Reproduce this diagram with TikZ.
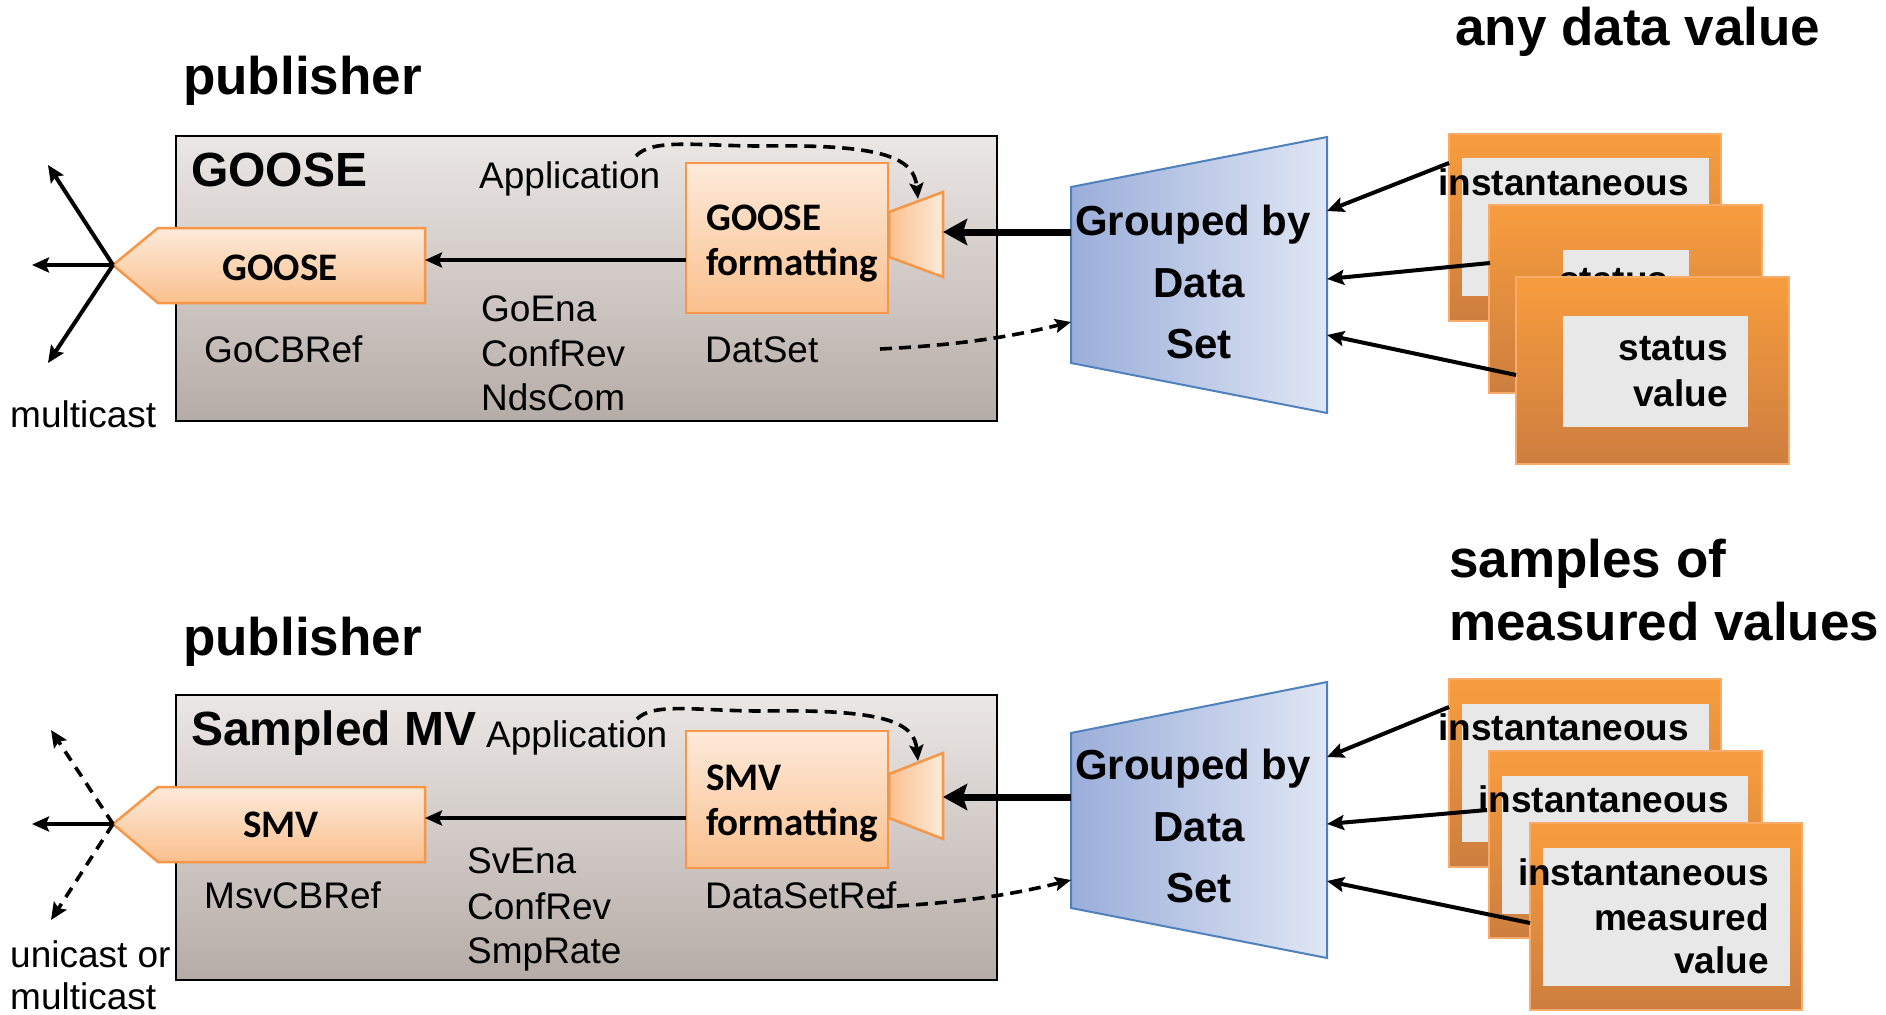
\documentclass[tikz,border=0pt]{standalone}
\usepackage{fontspec}
\setmainfont{Liberation Sans}
\newfontfamily\carl{Carlito}
\usetikzlibrary{arrows.meta}
\newcommand\fsreg{\fontsize{37}{44}\selectfont}
\newcommand\fsttl{\fontsize{53}{62}\selectfont\bfseries}
\newcommand\fshead{\fontsize{48}{56}\selectfont\bfseries}
\newcommand\fsgrp{\fontsize{42}{50}\selectfont\bfseries}
\newcommand\fscard{\fontsize{37}{44}\selectfont\bfseries}
\newcommand\fscal{\carl\fontsize{39}{46}\selectfont\bfseries}
\definecolor{grayT}{HTML}{EBE7E5}
\definecolor{grayB}{HTML}{B6ACA7}
\definecolor{orL}{HTML}{FDEADA}
\definecolor{orM}{HTML}{FAC08E}
\definecolor{orD}{HTML}{F79646}
\definecolor{cardT}{HTML}{F89D3E}
\definecolor{cardB}{HTML}{CD7E3F}
\definecolor{cardD}{HTML}{F9AC6A}
\definecolor{cardI}{HTML}{E8E8E8}
\definecolor{blL}{HTML}{9BAEDA}
\definecolor{blR}{HTML}{E0E6F4}
\definecolor{blD}{HTML}{4F81BD}
\tikzset{
  txt/.style={inner sep=0pt, font=\fsreg},
  ttl/.style={inner sep=0pt, font=\fsttl},
  head/.style={inner sep=0pt, font=\fshead},
  grp/.style={inner sep=0pt, font=\fsgrp, anchor=base},
  ctxt/.style={inner sep=0pt, font=\fscard},
  caltxt/.style={inner sep=0pt, font=\fscal},
  gbox/.style={draw=black, line width=2.5pt, top color=grayT, bottom color=grayB, inner sep=0pt, outer sep=0pt},
  fmtbox/.style={draw=orD, line width=2.5pt, top color=orL, bottom color=orM, inner sep=0pt, outer sep=0pt},
  pent/.style={draw=orD, line width=2.5pt, top color=orL, bottom color=orM},
  funnel/.style={draw=orD, line width=2.5pt, left color=orM, right color=orL},
  grpshape/.style={draw=blD, line width=2pt, left color=blL, right color=blR},
  card/.style={draw=cardD, line width=2pt, top color=cardT, bottom color=cardB, inner sep=0pt, outer sep=0pt},
  cardin/.style={fill=cardI, inner sep=0pt, outer sep=0pt},
  arr/.style={line width=4pt, -{Stealth[length=17pt,width=15pt,inset=3pt]}},
  thickarr/.style={line width=7pt, -{Stealth[length=24pt,width=26pt,inset=4pt]}},
  dsh/.style={line width=3.6pt, dash pattern=on 12pt off 7pt, -{Stealth[length=16pt,width=14pt,inset=3pt]}},
  dshm/.style={line width=3.6pt, dash pattern=on 11pt off 8pt, -{Stealth[length=17pt,width=15pt,inset=3pt]}},
}
\begin{document}
\begin{tikzpicture}[x=1pt,y=-1pt]
\useasboundingbox (0,0) rectangle (1886,1014);

% ---------- titles ----------
\node[ttl, anchor=base west] (pub1) at (183,95) {publisher};
\node[ttl, anchor=base west] (any) at (1455,46) {any data value};
\node[ttl, anchor=base west] (samp1) at (1449,577) {samples of};
\node[ttl, anchor=base west] (samp2) at (1449,640) {measured values};
\node[ttl, anchor=base west] (pub2) at (183,655) {publisher};

% ================= TOP : GOOSE =================
\node[gbox, minimum width=821pt, minimum height=285pt] (box1) at (586.5,278.5) {};
\node[head, anchor=base west] (goosettl) at (191,186) {GOOSE};
\node[txt, anchor=base west] (app1) at (479,188) {Application};
\node[txt, anchor=base west] (gocb) at (204,362) {GoCBRef};
\node[txt, anchor=base west] (goena) at (481,321) {GoEna};
\node[txt, anchor=base west] (confrev1) at (481,366) {ConfRev};
\node[txt, anchor=base west] (ndscom) at (481,410) {NdsCom};
\node[txt, anchor=base west] (datset) at (705,362) {DatSet};
\node[txt, anchor=base west] (mc1) at (10,427) {multicast};

% pentagon
\draw[pent] (425,228) -- (158,228) -- (113,265) -- (158,303) -- (425,303) -- cycle;
\coordinate (p1tip) at (113,265);
\coordinate (p1right) at (425,260);
\node[caltxt, anchor=base] (p1txt) at (280,280) {GOOSE};

% formatting box
\node[fmtbox, minimum width=202pt, minimum height=150pt] (fmt1) at (787,238) {};
\node[caltxt, anchor=base west] (fmt1a) at (706,230) {GOOSE};
\node[caltxt, anchor=base west] (fmt1b) at (706,275) {formatting};
% funnel
\draw[funnel] (889,212) -- (943,192) -- (943,277) -- (889,257) -- cycle;
\coordinate (f1right) at (943,232);
\coordinate (f1top) at (918,199);

% grouped by data set
\draw[grpshape] (1071,187) -- (1327,137) -- (1327,413) -- (1071,363) -- cycle;
\node[grp] (g1a) at (1193,235) {Grouped by};
\node[grp] (g1b) at (1199,297) {Data};
\node[grp] (g1c) at (1199,358) {Set};
\coordinate (g1left) at (1071,232);
\coordinate (g1ds) at (1071,322);
\coordinate (g1r1) at (1327,211);
\coordinate (g1r2) at (1327,279);
\coordinate (g1r3) at (1327,335);

% cards
\node[card, minimum width=272pt, minimum height=187pt] (tc1) at (1585,227.5) {};
\node[cardin, minimum width=247pt, minimum height=138pt] (tc1i) at (1585.5,227) {};
\node[ctxt, anchor=base west] (tc1t) at (1438,195) {instantaneous};
\node[card, minimum width=273pt, minimum height=188pt] (tc2) at (1625.5,299) {};
\node[cardin, minimum width=126pt, minimum height=50pt] (tc2i) at (1626,275) {};
\node[ctxt, anchor=base west] (tc2t) at (1559,292) {status};
\node[card, minimum width=273pt, minimum height=187pt] (tc3) at (1652.5,370.5) {};
\node[cardin, minimum width=185pt, minimum height=111pt] (tc3i) at (1655.5,371.5) {};
\node[ctxt, anchor=base east] (tc3a) at (1728,360) {status};
\node[ctxt, anchor=base east] (tc3b) at (1728,406) {value};
\coordinate (tc1s) at (1449,163);
\coordinate (tc2s) at (1490,263);
\coordinate (tc3s) at (1516,375);

% connectors top
\draw[arr] (p1tip) -- (48,165) coordinate (m1up);
\draw[arr] (p1tip) -- (32,265) coordinate (m1left);
\draw[arr] (p1tip) -- (48,363) coordinate (m1down);
\draw[arr] (fmt1.west |- p1right) -- (p1right);
\draw[thickarr] (g1left) -- (f1right);
\coordinate (a1s) at (636,156);
\draw[dsh] (a1s) .. controls (652,138) and (700,146) .. (760,146) .. controls (885,144) and (914,158) .. (f1top);
\coordinate (ds1s) at (880,349);
\draw[dsh] (ds1s) .. controls (960,345) and (1010,337) .. (g1ds);
\draw[arr] (tc1s) -- (g1r1);
\draw[arr] (tc2s) -- (g1r2);
\draw[arr] (tc3s) -- (g1r3);

% ================= BOTTOM : SMV =================
\node[gbox, minimum width=821pt, minimum height=285pt] (box2) at (586.5,837.5) {};
\node[head, anchor=base west] (smvttl) at (191,745) {Sampled MV};
\node[txt, anchor=base west] (app2) at (486,747) {Application};
\node[txt, anchor=base west] (msvcb) at (204,908) {MsvCBRef};
\node[txt, anchor=base west] (svena) at (467,873) {SvEna};
\node[txt, anchor=base west] (confrev2) at (467,919) {ConfRev};
\node[txt, anchor=base west] (smprate) at (467,963) {SmpRate};
\node[txt, anchor=base west] (dsref) at (705,908) {DataSetRef};
\node[txt, anchor=base west] (uc) at (10,967) {unicast or};
\node[txt, anchor=base west] (mc2) at (10,1009) {multicast};

\draw[pent] (425,787) -- (158,787) -- (113,824) -- (158,862) -- (425,862) -- cycle;
\coordinate (p2tip) at (113,824);
\coordinate (p2right) at (425,818);
\node[caltxt, anchor=base] (p2txt) at (281,837) {SMV};

\node[fmtbox, minimum width=202pt, minimum height=137pt] (fmt2) at (787,799.5) {};
\node[caltxt, anchor=base west] (fmt2a) at (706,790) {SMV};
\node[caltxt, anchor=base west] (fmt2b) at (706,835) {formatting};
\draw[funnel] (889,774) -- (943,753) -- (943,839) -- (889,818) -- cycle;
\coordinate (f2right) at (943,797);
\coordinate (f2top) at (918,761);

\draw[grpshape] (1071,733) -- (1327,682) -- (1327,958) -- (1071,908) -- cycle;
\node[grp] (g2a) at (1193,779) {Grouped by};
\node[grp] (g2b) at (1199,841) {Data};
\node[grp] (g2c) at (1199,902) {Set};
\coordinate (g2left) at (1071,797);
\coordinate (g2ds) at (1071,880);
\coordinate (g2r1) at (1327,757);
\coordinate (g2r2) at (1327,824);
\coordinate (g2r3) at (1327,881);

\node[card, minimum width=272pt, minimum height=188pt] (bc1) at (1585,773) {};
\node[cardin, minimum width=247pt, minimum height=138pt] (bc1i) at (1585.5,773) {};
\node[ctxt, anchor=base west] (bc1t) at (1438,740) {instantaneous};
\node[card, minimum width=273pt, minimum height=187pt] (bc2) at (1625.5,844.5) {};
\node[cardin, minimum width=246pt, minimum height=138pt] (bc2i) at (1625,845) {};
\node[ctxt, anchor=base west] (bc2t) at (1478,812) {instantaneous};
\node[card, minimum width=272pt, minimum height=187pt] (bc3) at (1666,916.5) {};
\node[cardin, minimum width=247pt, minimum height=138pt] (bc3i) at (1666.5,917) {};
\node[ctxt, anchor=base east] (bc3a) at (1769,885) {instantaneous};
\node[ctxt, anchor=base east] (bc3b) at (1769,930) {measured};
\node[ctxt, anchor=base east] (bc3c) at (1769,973) {value};
\coordinate (bc1s) at (1449,707);
\coordinate (bc2s) at (1487,810);
\coordinate (bc3s) at (1530,923);

\draw[dshm] (p2tip) -- (51,730) coordinate (m2up);
\draw[arr] (p2tip) -- (32,824) coordinate (m2left);
\draw[dshm] (p2tip) -- (51,920) coordinate (m2down);
\draw[arr] (fmt2.west |- p2right) -- (p2right);
\draw[thickarr] (g2left) -- (f2right);
\coordinate (a2s) at (637,719);
\draw[dsh] (a2s) .. controls (653,702) and (700,711) .. (760,711) .. controls (885,709) and (914,722) .. (f2top);
\coordinate (ds2s) at (878,907);
\draw[dsh] (ds2s) .. controls (960,903) and (1010,895) .. (g2ds);
\draw[arr] (bc1s) -- (g2r1);
\draw[arr] (bc2s) -- (g2r2);
\draw[arr] (bc3s) -- (g2r3);
\end{tikzpicture}
\end{document}
